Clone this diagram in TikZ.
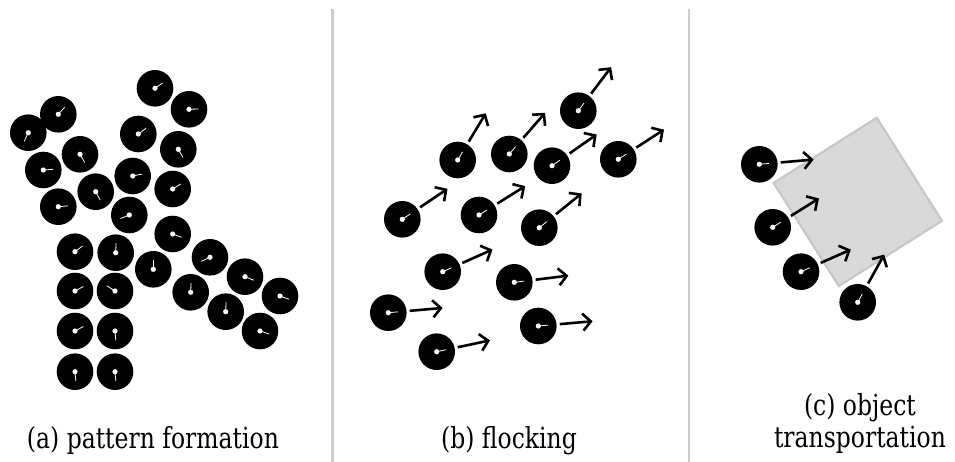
\documentclass[tikz,border=0pt]{standalone}
\usepackage{fontspec}
\setmainfont[FakeStretch=0.81]{DejaVu Serif}
\usetikzlibrary{arrows.meta}

\tikzset{
    robot/.style={circle, fill=black, minimum size=36.6pt, inner sep=0pt},
    heading/.style={white, line width=0.8pt},
    move/.style={line width=2.6pt, -{Straight Barb[length=8pt,width=17pt]}},
    load/.style={draw=black!22, line width=2.2pt, fill=black!15, minimum size=122pt, inner sep=0pt},
    divider/.style={black!20, line width=2.8pt},
    caption/.style={font=\fontsize{29}{28}\selectfont, anchor=base, inner sep=0pt, align=center}
}

% name, x, y, heading angle
\newcommand\robot[4]{%
    \node[robot] (#1) at (#2,#3) {};
    \draw[heading] (#1.center) -- ++(#4:9.5pt);
    \fill[white] (#1.center) circle (2.6pt);
}
% robot with its velocity arrow
\newcommand\mover[4]{%
    \robot{#1}{#2}{#3}{#4}
    \draw[move] (#1.#4) ++(#4:3pt) -- ++(#4:33pt);
}

\begin{document}
\begin{tikzpicture}[x=1pt, y=-1pt]
    \useasboundingbox (0,0) rectangle (955,462);

    \draw[divider] (332.5,9) -- (332.5,462);
    \draw[divider] (689,9) -- (689,462);

    % (a) pattern formation
    \robot{p1}{155}{88.3}{35}
    \robot{p2}{189}{109.3}{2}
    \robot{p3}{58.3}{114.3}{48}
    \robot{p4}{28.3}{132.7}{-115}
    \robot{p5}{138.3}{134}{37}
    \robot{p6}{178.3}{149.3}{-60}
    \robot{p7}{80}{154.3}{-60}
    \robot{p8}{43.3}{170}{4}
    \robot{p9}{132.7}{176}{12}
    \robot{p10}{172.7}{189}{32}
    \robot{p11}{95.7}{191.7}{-62}
    \robot{p12}{58.3}{206.7}{5}
    \robot{p13}{129.3}{215}{-158}
    \robot{p14}{172.7}{234}{-20}
    \robot{p15}{75}{251.7}{37}
    \robot{p16}{115.7}{252.7}{88}
    \robot{p17}{153.3}{269.3}{90}
    \robot{p18}{210}{257.3}{-155}
    \robot{p19}{75}{291}{28}
    \robot{p20}{115}{291}{147}
    \robot{p21}{190.7}{292.3}{88}
    \robot{p22}{245}{276.7}{-22}
    \robot{p23}{75}{331}{28}
    \robot{p24}{115}{331}{-85}
    \robot{p25}{225.7}{311.7}{88}
    \robot{p26}{280}{296}{-20}
    \robot{p27}{75}{371.7}{-85}
    \robot{p28}{115}{371.7}{-85}
    \robot{p29}{260}{331}{-18}

    % (b) flocking
    \mover{f1}{578.3}{110.7}{53}
    \mover{f2}{457.7}{160}{59}
    \mover{f3}{509.3}{154}{49}
    \mover{f4}{552}{165.7}{35}
    \mover{f5}{618.3}{159.3}{33}
    \mover{f6}{402.3}{219.3}{34}
    \mover{f7}{479}{215}{32}
    \mover{f8}{539.3}{227.7}{39}
    \mover{f9}{442.7}{271.7}{24}
    \mover{f10}{514.3}{282.3}{7}
    \mover{f11}{388.3}{312.7}{5}
    \mover{f12}{538.3}{326}{5}
    \mover{f13}{436.7}{351.7}{12}

    % (c) object transportation
    \node[load, rotate=32.3] (box) at (857.8,201.9) {};
    \mover{t1}{759.3}{164.3}{5}
    \mover{t2}{772.7}{227.3}{32}
    \mover{t3}{801}{271.7}{24}
    \mover{t4}{857.7}{302.3}{61}

    \node[caption] (capa) at (153,448) {(a) pattern formation};
    \node[caption] (capb) at (509,448) {(b) flocking};
    \node[caption] (capc) at (860,447) {(c) object\\[4pt]transportation};
\end{tikzpicture}
\end{document}
